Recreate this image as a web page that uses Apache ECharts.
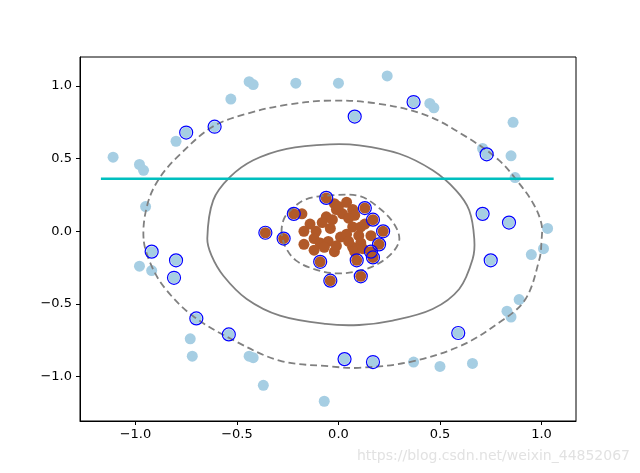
<!DOCTYPE html>
<html>
<head>
<meta charset="utf-8">
<script src="https://cdn.jsdelivr.net/npm/echarts@6/dist/echarts.min.js"></script>
<style>
  html, body { margin: 0; padding: 0; background: #fff; }
  #chart { width: 640px; height: 473px; }
</style>
</head>
<body>
<div id="chart"></div>
<script>
// outer ring (class 0)
const outerX = [-1.11, -0.98, -0.96, -0.80, -0.75, -0.61, -0.53, -0.44, -0.42, -0.21,
  -0.95, 0.00, 0.24, 0.08, 0.37, 0.45, 0.47, 0.86, 0.71, 0.73,
  0.85, 0.87, 0.71, 0.84, 1.03, -0.92, -0.98, -0.92, -0.80, -0.81,
  -0.70, -0.73, -0.72, -0.54, -0.44, -0.42, -0.37, -0.07, 0.75, 0.95,
  1.01, 0.89, 0.83, 0.85, 0.59, 0.03, 0.17, 0.37, 0.50, 0.66]
const outerY = [0.51, 0.46, 0.42, 0.62, 0.68, 0.72, 0.91, 1.03, 1.01, 1.02,
  0.17, 1.02, 1.07, 0.79, 0.89, 0.88, 0.85, 0.75, 0.57, 0.53,
  0.52, 0.37, 0.12, 0.06, 0.02, -0.14, -0.24, -0.27, -0.20, -0.32,
  -0.60, -0.74, -0.86, -0.71, -0.86, -0.87, -1.06, -1.17, -0.20, -0.16,
  -0.12, -0.47, -0.55, -0.59, -0.70, -0.88, -0.90, -0.90, -0.93, -0.91]

// inner blob (class 1)
const innerX = [-0.06, -0.22, 0.13, 0.17, 0.22, -0.27, 0.20, 0.16, 0.17, 0.09,
  -0.09, -0.04, 0.11, -0.36, -0.18, -0.02, -0.01, -0.06, -0.03, 0.02,
  0.07, 0.08, 0.05, 0.07, 0.11, 0.10, 0.16, -0.04, -0.17, -0.11,
  -0.17, -0.12, -0.09, -0.05, 0.01, -0.02, 0.07, 0.08, 0.11, -0.12,
  -0.07, 0.00, 0.04, -0.14, 0.04, 0.13, 0.05, -0.01, 0.12, -0.08]
const innerY = [0.23, 0.12, 0.16, 0.08, 0.00, -0.05, -0.09, -0.14, -0.18, -0.20,
  -0.21, -0.34, -0.31, -0.01, 0.12, 0.19, 0.15, 0.10, 0.08, 0.12,
  0.15, 0.11, 0.09, 0.03, 0.03, -0.03, -0.03, 0.02, 0.00, 0.00,
  -0.09, -0.05, -0.08, -0.07, -0.04, -0.14, -0.11, -0.14, -0.08, -0.13,
  -0.11, 0.17, 0.20, 0.05, -0.02, 0.05, -0.07, -0.10, -0.12, 0.06]

// support vectors
const svX = [-0.75, -0.61, 0.08, 0.37, 0.73, 0.71, 0.84, -0.92, -0.80, -0.81,
  -0.70, -0.54, 0.75, 0.59, 0.03, 0.17,
  -0.06, -0.22, 0.13, 0.17, 0.22, -0.27, 0.20, 0.16, 0.17, 0.09,
  -0.09, -0.04, 0.11, -0.36]
const svY = [0.68, 0.72, 0.79, 0.89, 0.53, 0.12, 0.06, -0.14, -0.20, -0.32,
  -0.60, -0.71, -0.20, -0.70, -0.88, -0.90,
  0.23, 0.12, 0.16, 0.08, 0.00, -0.05, -0.09, -0.14, -0.18, -0.20,
  -0.21, -0.34, -0.31, -0.01]

// decision function contours (closed loops)
const marginOuter = [[-0.96, -0.05], [-0.94, 0.19], [-0.88, 0.37], [-0.78, 0.53], [-0.62, 0.72],
  [-0.45, 0.81], [-0.26, 0.87], [-0.04, 0.90], [0.19, 0.88], [0.43, 0.80], [0.63, 0.65],
  [0.79, 0.49], [0.89, 0.33], [0.96, 0.19], [1.00, 0.05], [1.00, -0.07], [0.99, -0.19],
  [0.92, -0.47], [0.79, -0.63], [0.60, -0.79], [0.35, -0.90], [0.10, -0.94], [-0.04, -0.93],
  [-0.29, -0.89], [-0.53, -0.74], [-0.72, -0.58], [-0.85, -0.40], [-0.92, -0.24]]
const boundary = [[-0.646, -0.05], [-0.617, 0.213], [-0.534, 0.374], [-0.42, 0.489], [-0.255, 0.568],
  [-0.042, 0.599], [0.102, 0.592], [0.30, 0.534], [0.464, 0.42], [0.579, 0.282], [0.644, 0.145],
  [0.669, -0.053], [0.661, -0.191], [0.595, -0.397], [0.464, -0.535], [0.267, -0.615],
  [0.102, -0.645], [-0.062, -0.638], [-0.288, -0.581], [-0.452, -0.466], [-0.567, -0.306],
  [-0.625, -0.168]]
const marginInner = [[-0.28, -0.01], [-0.27, 0.08], [-0.24, 0.14], [-0.16, 0.22], [-0.01, 0.25],
  [0.11, 0.24], [0.20, 0.16], [0.27, 0.06], [0.30, -0.05], [0.27, -0.14], [0.20, -0.22],
  [0.11, -0.27], [-0.01, -0.29], [-0.12, -0.26], [-0.21, -0.20], [-0.26, -0.11]]

// cyan horizontal line
const lineX = [-1.17, 1.06]
const lineY = [0.362, 0.362]

const xTicks = [-1, -0.5, 0, 0.5, 1]
const yTicks = [-1, -0.5, 0, 0.5, 1]

const zip = (xs, ys) => xs.map((x, i) => [x, ys[i]])
const fmt = v => (v < 0 ? '\u2212' : '') + Math.abs(v).toFixed(1)

// closed smooth contour drawn through the axes' coord system
function contourSeries(loop, dashed) {
  return {
    type: 'custom', z: 2, silent: true,
    data: [[0]],
    renderItem: function(params, api) {
      return {
        type: 'polygon',
        shape: { points: loop.map(p => api.coord(p)), smooth: 0.35 },
        style: {
          fill: null,
          stroke: '#808080',
          lineWidth: 1.8,
          lineDash: dashed ? [7, 4] : null
        }
      }
    }
  }
}

const axisCommon = {
  type: 'value',
  axisLine: { show: true, onZero: false, lineStyle: { color: '#000', width: 1 } },
  axisTick: { show: true, inside: false, length: 4, lineStyle: { color: '#000' } },
  splitLine: { show: false },
  axisLabel: {
    color: '#000',
    fontFamily: 'DejaVu Sans',
    fontSize: 13,
    formatter: fmt
  }
}

const chart = echarts.init(document.getElementById('chart'))
chart.setOption({
  animation: false,
  backgroundColor: '#fff',
  grid: {
    left: 80, right: 64, top: 57, bottom: 52,
    show: true, borderColor: '#000', borderWidth: 1
  },
  xAxis: {
    ...axisCommon,
    min: -1.273, max: 1.17,
    axisTick: { ...axisCommon.axisTick, customValues: xTicks },
    axisLabel: { ...axisCommon.axisLabel, margin: 7, customValues: xTicks }
  },
  yAxis: {
    ...axisCommon,
    min: -1.306, max: 1.2,
    axisTick: { ...axisCommon.axisTick, customValues: yTicks },
    axisLabel: { ...axisCommon.axisLabel, margin: 8, customValues: yTicks }
  },
  graphic: [{
    type: 'text',
    right: 10, bottom: 10,
    style: {
      text: 'https://blog.csdn.net/weixin_44852067',
      fill: '#e2e2e2',
      font: '14px "DejaVu Sans"'
    }
  }],
  series: [
    {
      type: 'scatter', z: 1,
      data: zip(outerX, outerY),
      symbolSize: 11,
      itemStyle: { color: '#a6cee3', opacity: 1 }
    },
    {
      type: 'scatter', z: 1,
      data: zip(innerX, innerY),
      symbolSize: 11,
      itemStyle: { color: '#b15928', opacity: 1 }
    },
    contourSeries(marginOuter, true),
    contourSeries(boundary, false),
    contourSeries(marginInner, true),
    {
      type: 'scatter', z: 3,
      data: zip(svX, svY),
      symbolSize: 13,
      itemStyle: { color: 'rgba(0,0,0,0)', borderColor: '#0000ff', borderWidth: 1.2, opacity: 1 }
    },
    {
      type: 'line', z: 4,
      data: zip(lineX, lineY), showSymbol: false,
      lineStyle: { color: '#00bfbf', width: 2.6 }
    }
  ]
})
</script>
</body>
</html>
